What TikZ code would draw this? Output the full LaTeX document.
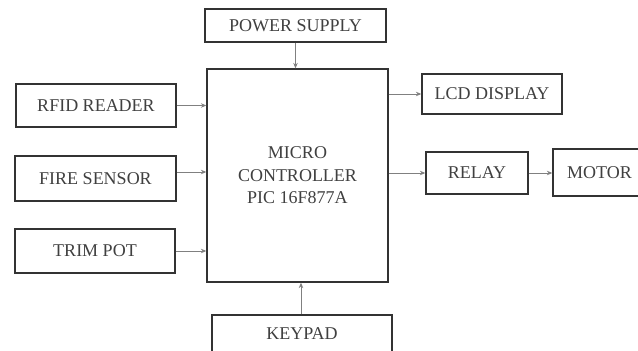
\documentclass[tikz,border=0pt]{standalone}
\usepackage{fontspec}
\setmainfont{Liberation Serif}
\usetikzlibrary{arrows.meta}
\tikzset{
  blk/.style={draw=black!80, line width=1.3pt, fill=white, text=black!75,
    font=\fontsize{18}{22.5}\selectfont, align=center, inner sep=0pt},
  conn/.style={draw=black!50, line width=1pt, -{Stealth[length=5.5pt,width=4.5pt]}}
}
\begin{document}
\begin{tikzpicture}[x=1pt, y=-1pt]
    \useasboundingbox (0,0) rectangle (638,351);

    % Controller in the middle
    \node[blk, minimum width=181pt, minimum height=213pt] (mcu) at (297.5,175.5) {MICRO\\CONTROLLER\\PIC 16F877A};

    % Supply on top, keypad below
    \node[blk, minimum width=181pt, minimum height=33pt] (psu) at (295.5,25.5) {POWER SUPPLY};
    \node[blk, minimum width=180pt, minimum height=38pt] (keypad) at (302,334) {KEYPAD};

    % Inputs (left side)
    \node[blk, minimum width=160pt, minimum height=43pt] (rfid) at (96,105.5) {RFID READER};
    \node[blk, minimum width=161pt, minimum height=45pt] (fire) at (95.5,178.5) {FIRE SENSOR};
    \node[blk, minimum width=160pt, minimum height=44pt] (trim) at (95,251) {TRIM POT};

    % Outputs (right side)
    \node[blk, minimum width=140pt, minimum height=40pt] (lcd) at (492,94) {LCD DISPLAY};
    \node[blk, minimum width=102pt, minimum height=42pt] (relay) at (477,173) {RELAY};
    \node[blk, minimum width=93pt, minimum height=47pt] (motor) at (599.5,172.5) {MOTOR};

    % Connectors into the controller
    \draw[conn] (psu.south) -- (psu.south |- mcu.north);
    \draw[conn] (keypad.north -| 301,0) -- (301,0 |- mcu.south);
    \draw[conn] (rfid.east) -- (rfid.east -| mcu.west);
    \draw[conn] ([yshift=6.5pt]fire.east) -- ([yshift=6.5pt]fire.east -| mcu.west);
    \draw[conn] (trim.east) -- (trim.east -| mcu.west);

    % Connectors out of the controller
    \draw[conn] (lcd.west -| mcu.east) -- (lcd.west);
    \draw[conn] (relay.west -| mcu.east) -- (relay.west);
    \draw[conn] (relay.east) -- (relay.east -| motor.west);
\end{tikzpicture}
\end{document}
